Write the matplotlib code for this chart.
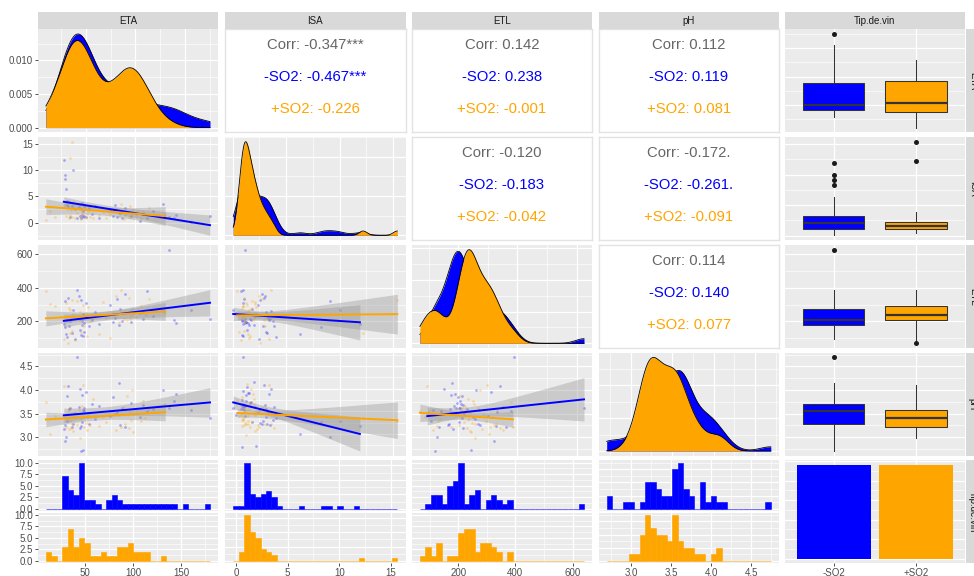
import numpy as np
import matplotlib
matplotlib.use('Agg')
import matplotlib.pyplot as plt
from matplotlib.ticker import (MaxNLocator, AutoMinorLocator, FixedLocator,
                               NullLocator, FormatStrFormatter)

plt.rcParams['font.family'] = ['Liberation Sans', 'DejaVu Sans']

# wine type groups
groups = ['-SO2', '+SO2']
colors = ['#0000FF', '#FFA500']
variables = ['ETA', 'ISA', 'ETL', 'pH']
strip_names = ['ETA', 'ISA', 'ETL', 'pH', 'Tip.de.vin']

# observations of the -SO2 wines (one entry per wine)
eta_minus = [28, 29, 29.5, 30, 31, 31.5, 32, 33, 34.5, 36, 37.5, 39, 41, 43, 44, 44.5,
             45, 45.5, 46, 46.5, 47, 47.5, 48, 48.5, 50, 53, 56, 59, 63, 74, 77, 79,
             81, 83, 85, 87, 90, 96, 105, 108, 112, 118, 128, 134, 139, 141, 156, 175]
isa_minus = [11.9, 8.3, 9.1, 6.3, 3.4, 4.1, 2.9, 3.9, 1.1, 3.2, 10.0, 2.5, 0.92, 3.0,
             1.3, 3.45, 0.85, 2.6, 1.5, 3.8, 0.98, 2.2, 1.2, 3.15, 1.0, 2.8, 1.7, 3.1,
             0.95, 2.35, 1.25, 3.3, 1.05, 1.95, 1.8, 0.87, 2.7, 1.22, 0.3, 1.6, 0.82,
             2.1, 3.6, 1.12, 0.9, 1.4, 0.05, 1.15]
etl_minus = [183, 165, 320, 128, 211, 108, 340, 173, 205, 134, 265, 95, 388, 350, 150,
             215, 120, 326, 176, 203, 115, 243, 192, 140, 310, 170, 209, 255, 186, 300,
             198, 219, 332, 179, 274, 201, 362, 195, 249, 217, 378, 230, 261, 625, 207,
             189, 270, 213]
ph_minus = [3.17, 3.26, 2.93, 3.0, 3.88, 3.35, 4.08, 3.6, 3.62, 3.22, 3.28, 3.52, 4.69,
            3.64, 4.03, 3.19, 2.71, 3.24, 3.9, 3.32, 3.57, 2.74, 3.61, 3.55, 3.95, 3.29,
            3.70, 3.38, 3.66, 3.46, 3.86, 3.49, 3.53, 4.15, 3.27, 3.62, 3.21, 3.73, 3.42,
            3.68, 3.56, 3.59, 4.0, 3.63, 3.76, 3.91, 3.58, 3.4]

# observations of the +SO2 wines
eta_plus = [10, 14, 19, 28, 30, 32, 33, 34, 34.5, 35, 36, 36.5, 37.5, 39, 41, 43, 44.5,
            45.5, 46.5, 47, 48, 50, 51, 52.5, 54, 57, 63, 67, 70, 74, 80, 84, 86, 88.5,
            90, 92, 94, 95, 96, 97, 98, 101, 106, 108, 110, 112, 114, 130]
isa_plus = [0.43, 2.1, 1.0, 3.4, 1.22, 2.6, 0.9, 12.2, 1.5, 2.35, 15.4, 1.1, 3.9, 0.82,
            1.8, 2.9, 1.25, 0.6, 1.95, 1.38, 3.0, 0.95, 1.65, 2.2, 1.12, 0.88, 1.45,
            2.05, 0.85, 1.55, 2.5, 1.15, 3.6, 0.75, 1.42, 1.9, 1.05, 3.2, 0.98, 1.72,
            2.3, 1.2, 0.92, 2.0, 1.48, 1.3, 2.75, 1.6]
etl_plus = [378, 303, 290, 95, 308, 70, 280, 132, 265, 228, 326, 141, 241, 88, 320, 210,
            257, 137, 222, 298, 175, 247, 115, 285, 203, 234, 127, 313, 219, 101, 350,
            195, 385, 213, 255, 207, 340, 216, 231, 272, 244, 225, 294, 250, 236, 238,
            332, 252]
ph_plus = [3.74, 3.07, 3.46, 4.08, 3.22, 3.55, 3.18, 3.35, 3.62, 3.2, 3.29, 3.52, 3.13,
           3.42, 3.26, 3.57, 2.98, 3.39, 3.67, 4.1, 3.21, 3.3, 3.15, 3.5, 3.25, 3.82,
           3.23, 3.43, 3.32, 3.56, 3.16, 3.48, 3.22, 3.64, 3.28, 3.88, 3.19, 3.53, 3.37,
           4.0, 3.11, 3.57, 3.34, 3.77, 3.4, 3.54, 3.6, 3.7]

# correlation labels of the upper panels, pairs (row var, col var)
cor_pairs = [(0, 1), (0, 2), (0, 3), (1, 2), (1, 3), (2, 3)]
corr_all = ['-0.347***', '0.142', '0.112', '-0.120', '-0.172.', '0.114']
corr_minus = ['-0.467***', '0.238', '0.119', '-0.183', '-0.261.', '0.140']
corr_plus = ['-0.226', '-0.001', '0.081', '-0.042', '-0.091', '0.077']

# one histogram bin edge per variable (30 bins over the range)
bin_anchor = [43.5, 0.8, 200.0, 3.585]

data = {
    'ETA': [np.array(eta_minus), np.array(eta_plus)],
    'ISA': [np.array(isa_minus), np.array(isa_plus)],
    'ETL': [np.array(etl_minus), np.array(etl_plus)],
    'pH': [np.array(ph_minus), np.array(ph_plus)],
}

T_CRIT = 2.013  # t(0.975, df=46)

W, H = 974, 576
fig = plt.figure(figsize=(W / 100, H / 100), dpi=100)
col_x = [37.7, 225.0, 411.7, 598.5, 784.5]
row_y = [29.3, 137.0, 245.0, 352.7, 460.3]
PW, PH = 180.5, 103.0
BG = '#EBEBEB'


def add_ax(x, y, w, h):
    return fig.add_axes([x / W, 1 - (y + h) / H, w / W, h / H])


def expand(lo, hi, f=0.05):
    d = hi - lo
    return lo - f * d, hi + f * d


def ndec(step):
    for d in range(7):
        if abs(round(step, d) - step) < 1e-9:
            return d
    return 6


def setup_axis(axis, lim, cat, nb):
    if cat:
        axis.set_major_locator(FixedLocator([1, 2]))
        axis.set_minor_locator(NullLocator())
    else:
        loc = MaxNLocator(nbins=nb, steps=[1, 2, 2.5, 5, 10])
        axis.set_major_locator(loc)
        axis.set_minor_locator(AutoMinorLocator(2))
        t = loc.tick_values(*lim)
        axis.set_major_formatter(FormatStrFormatter('%%.%df' % ndec(t[1] - t[0])))


def setup(ax, xlim, ylim, left=False, bottom=False, xcat=False, nby=5):
    ax.set_facecolor(BG)
    for s in ax.spines.values():
        s.set_visible(False)
    ax.set_xlim(xlim)
    ax.set_ylim(ylim)
    setup_axis(ax.xaxis, xlim, xcat, 5)
    setup_axis(ax.yaxis, ylim, False, nby)
    if xcat:
        ax.set_xticklabels(groups)
    ax.grid(which='major', color='white', lw=0.9)
    ax.grid(which='minor', color='white', lw=0.45)
    ax.set_axisbelow(True)
    ax.tick_params(which='both', length=0, labelleft=False, labelbottom=False)
    kw = dict(which='major', length=2.2, width=0.6, color='#333333',
              labelsize=7, labelcolor='#4D4D4D', pad=1.2)
    if left:
        ax.tick_params(axis='y', labelleft=True, **kw)
    if bottom:
        ax.tick_params(axis='x', labelbottom=True, **kw)


def full(v):
    return np.concatenate(data[v])


def xrange_of(v):
    a = full(v)
    return a.min(), a.max()


def nrd0(x):
    sd = np.std(x, ddof=1)
    q75, q25 = np.percentile(x, [75, 25])
    return 0.9 * min(sd, (q75 - q25) / 1.34) * len(x) ** -0.2


# diagonal: densities
for i, v in enumerate(variables):
    ax = add_ax(col_x[i], row_y[i], PW, PH)
    lo, hi = xrange_of(v)
    g = np.linspace(lo, hi, 512)
    dmax = 0
    for k in range(2):
        x = data[v][k]
        bw = nrd0(x)
        d = np.exp(-0.5 * ((g[:, None] - x[None, :]) / bw) ** 2).sum(1) / (len(x) * bw * np.sqrt(2 * np.pi))
        ax.fill_between(g, 0, d, color=colors[k], lw=0, zorder=2 + k)
        ax.plot(g, d, color='black', lw=0.6, zorder=2 + k)
        dmax = max(dmax, d.max())
    setup(ax, expand(lo, hi), expand(0, dmax), left=(i == 0))

# lower: scatter with linear fits
for r in range(1, 4):
    for c in range(r):
        ax = add_ax(col_x[c], row_y[r], PW, PH)
        vx, vy = variables[c], variables[r]
        ylo, yhi = xrange_of(vy)
        for k in range(2):
            x, y = data[vx][k], data[vy][k]
            ax.scatter(x, y, s=4, color=colors[k], alpha=0.3, lw=0, zorder=2)
        for k in range(2):
            x, y = data[vx][k], data[vy][k]
            b1, b0 = np.polyfit(x, y, 1)
            xs = np.linspace(x.min(), x.max(), 80)
            fit = b0 + b1 * xs
            res = y - (b0 + b1 * x)
            s = np.sqrt((res ** 2).sum() / (len(x) - 2))
            se = s * np.sqrt(1 / len(x) + (xs - x.mean()) ** 2 / ((x - x.mean()) ** 2).sum())
            ax.fill_between(xs, fit - T_CRIT * se, fit + T_CRIT * se, color='#999999',
                            alpha=0.4, lw=0, zorder=3)
            ax.plot(xs, fit, color=colors[k], lw=1.4, zorder=4)
            ylo = min(ylo, (fit - T_CRIT * se).min())
            yhi = max(yhi, (fit + T_CRIT * se).max())
        lo, hi = xrange_of(vx)
        setup(ax, expand(lo, hi), expand(ylo, yhi), left=(c == 0))

# upper: correlation text
for k, (r, c) in enumerate(cor_pairs):
    ax = add_ax(col_x[c], row_y[r], PW, PH)
    ax.set_facecolor('white')
    ax.set_xticks([])
    ax.set_yticks([])
    for s in ax.spines.values():
        s.set_color('#E3E3E3')
        s.set_linewidth(1.0)
    ax.text(0.5, 0.848, 'Corr: ' + corr_all[k], transform=ax.transAxes,
            ha='center', va='center', fontsize=10.7, color='#666666')
    ax.text(0.5, 0.534, groups[0] + ': ' + corr_minus[k], transform=ax.transAxes,
            ha='center', va='center', fontsize=10.7, color=colors[0])
    ax.text(0.5, 0.223, groups[1] + ': ' + corr_plus[k], transform=ax.transAxes,
            ha='center', va='center', fontsize=10.7, color=colors[1])

# right column: boxplots
for r, v in enumerate(variables):
    ax = add_ax(col_x[4], row_y[r], PW, PH)
    bp = ax.boxplot(data[v], positions=[1, 2], widths=0.75, patch_artist=True,
                    manage_ticks=False,
                    medianprops=dict(color='#333333', lw=1.6),
                    whiskerprops=dict(color='#333333', lw=0.75),
                    capprops=dict(lw=0),
                    flierprops=dict(marker='o', markerfacecolor='#1A1A1A',
                                    markeredgecolor='none', markersize=3.6),
                    zorder=3)
    for patch, col in zip(bp['boxes'], colors):
        patch.set_facecolor(col)
        patch.set_edgecolor('#333333')
        patch.set_linewidth(0.75)
    lo, hi = xrange_of(v)
    setup(ax, (0.4, 2.6), expand(lo, hi), xcat=True)

# bottom row: histograms faceted by wine type
hh = (PH - 1.5) / 2
for c, v in enumerate(variables):
    lo, hi = xrange_of(v)
    w = (hi - lo) / 29
    a = bin_anchor[c]
    k0 = int(np.floor((lo - a) / w))
    k1 = int(np.ceil((hi - a) / w))
    edges = a + w * np.arange(k0, k1 + 1)
    counts = [np.histogram(data[v][k], bins=edges)[0] for k in range(2)]
    cmax = max(cn.max() for cn in counts)
    for k in range(2):
        ax = add_ax(col_x[c], row_y[4] + k * (hh + 1.5), PW, hh)
        ax.bar(edges[:-1], counts[k], width=w, align='edge', color=colors[k],
               edgecolor=colors[k], lw=0.4, zorder=2)
        setup(ax, expand(edges[0], edges[-1]), expand(0, cmax),
              left=(c == 0), bottom=(k == 1))

# bottom-right: bar of counts per wine type
ax = add_ax(col_x[4], row_y[4], PW, PH)
n_obs = [len(data['ETA'][k]) for k in range(2)]
ax.bar([1, 2], n_obs, width=0.9, color=colors, zorder=2)
setup(ax, (0.4, 2.6), expand(0, max(n_obs)), bottom=True, xcat=True, nby=6)

# strips
for c, name in enumerate(strip_names):
    ax = add_ax(col_x[c], 12.3, PW, 17)
    ax.set_facecolor('#D9D9D9')
    ax.set_xticks([])
    ax.set_yticks([])
    for s in ax.spines.values():
        s.set_visible(False)
    ax.text(0.5, 0.5, name, transform=ax.transAxes, ha='center', va='center',
            fontsize=7, color='#1A1A1A')
for r, name in enumerate(strip_names):
    ax = add_ax(965.8, row_y[r], 14, PH)
    ax.set_facecolor('#D9D9D9')
    ax.set_xticks([])
    ax.set_yticks([])
    for s in ax.spines.values():
        s.set_visible(False)
    ax.text(0.5, 0.5, name, transform=ax.transAxes, ha='center', va='center',
            fontsize=7, color='#1A1A1A', rotation=-90)

fig.savefig('out.png', dpi=100)
